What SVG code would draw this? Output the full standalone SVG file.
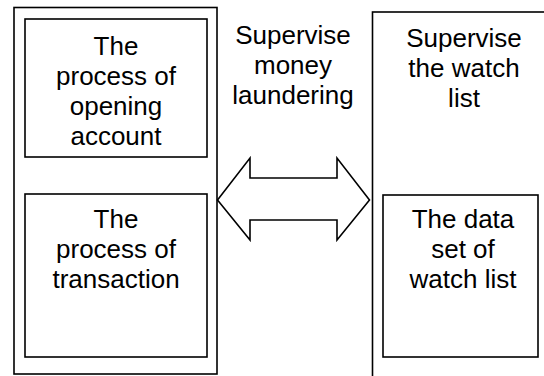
<svg xmlns="http://www.w3.org/2000/svg" width="544" height="376" viewBox="0 0 544 376">
<style>
.box{fill:none;stroke:#000;stroke-width:1.6}
.t{font-family:"Liberation Sans",Arial,sans-serif;font-size:26px;fill:#000;text-anchor:middle}
</style>
<rect width="544" height="376" fill="#fff"/>
<g id="left-system">
<rect class="box" x="14" y="7.5" width="203" height="366.5"/>
</g>
<g id="opening-account">
<rect class="box" x="25" y="19" width="182" height="138"/>
<text class="t" x="116" y="55">The</text>
<text class="t" x="116" y="85">process of</text>
<text class="t" x="116" y="115">opening</text>
<text class="t" x="116" y="145">account</text>
</g>
<g id="transaction">
<rect class="box" x="25" y="194" width="182" height="163"/>
<text class="t" x="116" y="228">The</text>
<text class="t" x="116" y="258">process of</text>
<text class="t" x="116" y="288">transaction</text>
</g>
<g id="supervise-money-laundering">
<text class="t" x="293" y="44">Supervise</text>
<text class="t" x="293" y="74">money</text>
<text class="t" x="293" y="104">laundering</text>
</g>
<g id="watch-list-system">
<rect class="box" x="372.5" y="12" width="200" height="380"/>
<text class="t" x="464" y="47">Supervise</text>
<text class="t" x="464" y="77">the watch</text>
<text class="t" x="464" y="107">list</text>
</g>
<g id="watch-list-data">
<rect class="box" x="383" y="195" width="155" height="162"/>
<text class="t" x="463" y="228">The data</text>
<text class="t" x="463" y="258">set of</text>
<text class="t" x="463" y="288">watch list</text>
</g>
<g id="connectors">
<path class="box" fill="#fff" d="M217.5 200 L250 158 L250 178 L337 178 L337 158 L369.5 200 L337 240 L337 220 L250 220 L250 240 Z"/>
</g>
</svg>
